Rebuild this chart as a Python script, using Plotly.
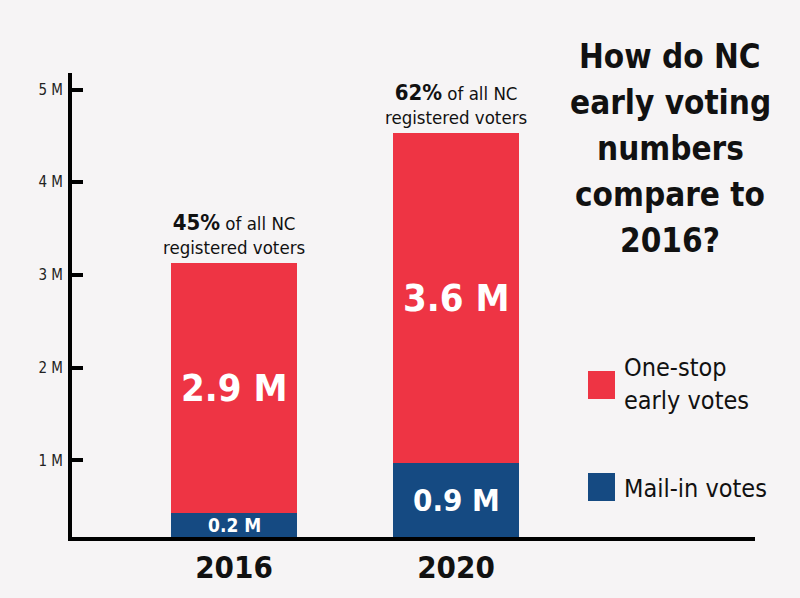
import plotly.graph_objects as go

years = ["2016", "2020"]
mail_in = [0.43, 0.97]          # millions (as drawn)
one_stop = [2.70, 3.56]         # millions (as drawn)
mail_labels = ["0.2 M", "0.9 M"]
one_stop_labels = ["2.9 M", "3.6 M"]
pct_labels = ["45%", "62%"]
y_tickvals = [1, 2, 3, 4, 5]
y_ticktext = ["1 M", "2 M", "3 M", "4 M", "5 M"]
title_lines = ["How do NC", "early voting", "numbers", "compare to", "2016?"]

RED = "#ee3444"
BLUE = "#154a82"
BG = "#f6f4f5"
FONT = "DejaVu Sans Condensed, sans-serif"

W, H = 800, 598
ML, MR, MT, MB = 72, 45, 73, 61
YMIN, YMAX = 0.173, 5.178

def px_x(p):
    return (p - ML) / (W - ML - MR)

def px_y(p):
    return (H - MB - p) / (H - MT - MB)

fig = go.Figure()
fig.add_trace(go.Bar(x=years, y=mail_in, marker=dict(color=BLUE, line=dict(width=0)),
                     width=0.568, name="Mail-in votes", hoverinfo="skip"))
fig.add_trace(go.Bar(x=years, y=one_stop, marker=dict(color=RED, line=dict(width=0)),
                     width=0.568, name="One-stop early votes", hoverinfo="skip"))

annotations = []
for i, yr in enumerate(years):
    total = mail_in[i] + one_stop[i]
    annotations.append(dict(x=i, y=(mail_in[i] + total) / 2, xref="x", yref="y",
                            text="<b>%s</b>" % one_stop_labels[i], showarrow=False,
                            font=dict(family=FONT, size=38, color="white")))
    annotations.append(dict(x=i, y=(max(YMIN, 0) + mail_in[i]) / 2, xref="x", yref="y",
                            text="<b>%s</b>" % mail_labels[i], showarrow=False,
                            font=dict(family=FONT, size=19 if i == 0 else 31, color="white")))
    annotations.append(dict(x=i, y=total, xref="x", yref="y", yanchor="bottom", yshift=3,
                            text="<span style='font-size:22px'><b>%s</b></span> of all NC<br>registered voters" % pct_labels[i],
                            showarrow=False,
                            font=dict(family=FONT, size=18.5, color="#111111")))

for k, line in enumerate(title_lines):
    annotations.append(dict(x=px_x(670), y=px_y(56 + 46 * k), xref="paper", yref="paper",
                            xanchor="center", yanchor="middle", showarrow=False,
                            text="<b>%s</b>" % line,
                            font=dict(family=FONT, size=33, color="#111111")))

annotations.append(dict(x=px_x(622), y=px_y(384), xref="paper", yref="paper",
                        xanchor="left", yanchor="middle", showarrow=False, align="left",
                        text="One-stop<br>early votes",
                        font=dict(family=FONT, size=25, color="#111111")))
annotations.append(dict(x=px_x(622), y=px_y(488), xref="paper", yref="paper",
                        xanchor="left", yanchor="middle", showarrow=False, align="left",
                        text="Mail-in votes",
                        font=dict(family=FONT, size=25, color="#111111")))

shapes = [
    dict(type="rect", xref="paper", yref="paper", x0=px_x(588), x1=px_x(615),
         y0=px_y(399), y1=px_y(371), fillcolor=RED, line=dict(width=0)),
    dict(type="rect", xref="paper", yref="paper", x0=px_x(588), x1=px_x(615),
         y0=px_y(501), y1=px_y(473), fillcolor=BLUE, line=dict(width=0)),
]

fig.update_layout(
    width=W, height=H, barmode="stack", showlegend=False,
    paper_bgcolor=BG, plot_bgcolor=BG,
    margin=dict(l=ML, r=MR, t=MT, b=MB, pad=0, autoexpand=False),
    annotations=annotations, shapes=shapes,
    xaxis=dict(type="category", range=[-0.7297, 2.3468], showgrid=False, zeroline=False,
               showline=True, linewidth=4, linecolor="black", ticks="",
               tickfont=dict(family=FONT, size=31, color="#111111"),
               tickprefix="<b>", ticksuffix="</b>", automargin=False,
               ticklabelstandoff=0, fixedrange=True),
    yaxis=dict(range=[YMIN, YMAX], showgrid=False, zeroline=False,
               showline=True, linewidth=4, linecolor="black",
               tickvals=y_tickvals, ticktext=y_ticktext, automargin=False,
               ticks="inside", ticklen=11, tickwidth=4, tickcolor="black",
               tickfont=dict(family=FONT, size=15, color="#222222"),
               ticklabelstandoff=2, fixedrange=True),
)

fig.write_html("out.html", config={"displayModeBar": False},
               post_script="document.body.style.margin='0';document.body.style.background='%s';" % BG)
